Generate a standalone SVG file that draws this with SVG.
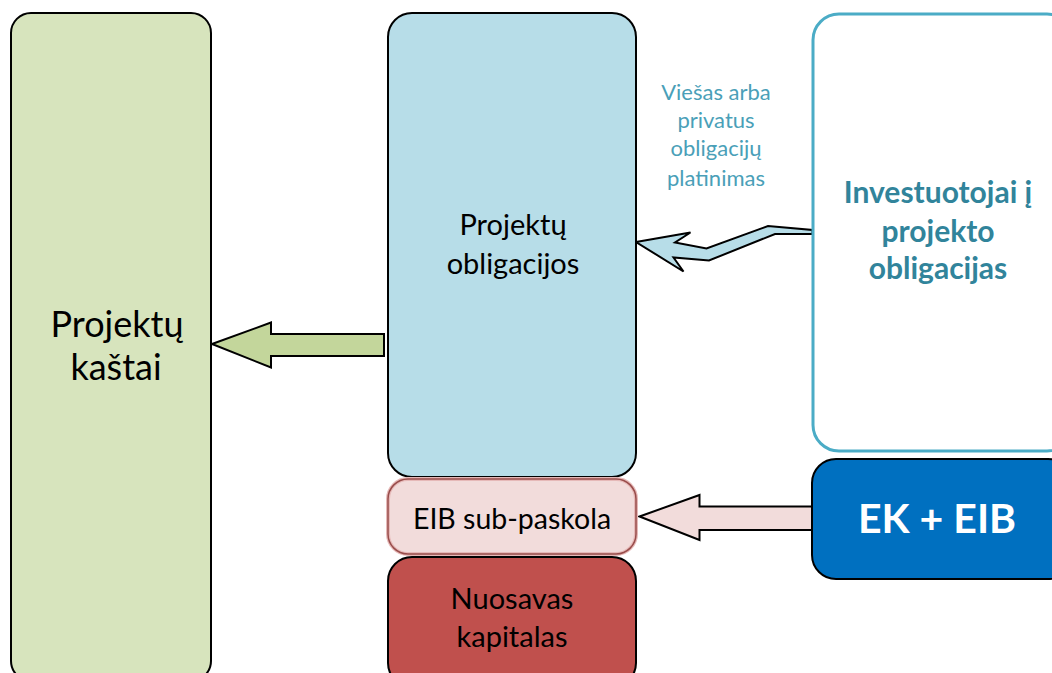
<svg xmlns="http://www.w3.org/2000/svg" width="1052" height="673" viewBox="0 0 1052 673">
<style>
text{font-family:Lato,"Open Sans","Liberation Sans",sans-serif;text-anchor:middle}
.box{stroke:#000;stroke-width:2}
.arrow{stroke:#000;stroke-width:2;stroke-linejoin:miter}
.dark{fill:#000}
</style>
<rect width="1052" height="673" fill="#fff"/>
<g id="connectors">
<path class="arrow" fill="#c3d69b" d="M212,344 L271,322.5 L271,334 L384,334 L384,356 L271,356 L271,367.5 Z"/>
<path class="arrow" fill="#b7dde8" d="M636,242 L690.5,232.5 L675,242.5 L706.5,248.5 L768,226 L812.5,230 L812.5,234 L775,234 L709,260.5 L673.5,257.5 L683.5,271.5 Z"/>
<path class="arrow" fill="#f2dcdb" d="M639.5,516.5 L699.5,495 L699.5,506.5 L813,506.5 L813,530 L699.5,530 L699.5,540 Z"/>
</g>
<g id="projektu-kastai">
<rect class="box" x="11" y="13" width="200" height="668" rx="20" fill="#d7e4bd"/>
<text class="dark" x="117" y="337" font-size="36">Projektų</text>
<text class="dark" x="116" y="380" font-size="36">kaštai</text>
</g>
<g id="projektu-obligacijos">
<rect class="box" x="388" y="13" width="248" height="464" rx="24" fill="#b7dde8"/>
<text class="dark" x="513" y="235" font-size="29">Projektų</text>
<text class="dark" x="513" y="274" font-size="29">obligacijos</text>
</g>
<g id="eib-sub-paskola">
<rect x="388" y="479" width="248" height="75" rx="20" fill="#f2dcdb" stroke="#e6b9b8" stroke-width="4"/>
<rect x="388" y="479" width="248" height="75" rx="20" fill="none" stroke="#984c4a" stroke-width="1.5"/>
<text class="dark" x="512" y="529" font-size="28.5">EIB sub-paskola</text>
</g>
<g id="nuosavas-kapitalas">
<rect class="box" x="388" y="557" width="248" height="130" rx="24" fill="#c0504d"/>
<text class="dark" x="512" y="609" font-size="29">Nuosavas</text>
<text class="dark" x="512" y="647" font-size="29">kapitalas</text>
</g>
<g id="viesas-label">
<text fill="#4a9fb8" font-size="22" x="716" y="100">Viešas arba</text>
<text fill="#4a9fb8" font-size="22" x="716" y="128">privatus</text>
<text fill="#4a9fb8" font-size="22" x="716" y="156">obligacijų</text>
<text fill="#4a9fb8" font-size="22" x="716" y="186">platinimas</text>
</g>
<g id="investuotojai">
<rect x="813" y="14" width="260" height="437" rx="26" fill="#fff" stroke="#4bacc6" stroke-width="3"/>
<text fill="#31849b" font-weight="bold" font-size="30" x="938" y="203">Investuotojai į</text>
<text fill="#31849b" font-weight="bold" font-size="30" x="938" y="242">projekto</text>
<text fill="#31849b" font-weight="bold" font-size="30" x="938" y="279">obligacijas</text>
</g>
<g id="ek-eib">
<rect class="box" x="812" y="459" width="260" height="120" rx="24" fill="#0070c0"/>
<text fill="#fff" font-weight="bold" font-size="41" x="937" y="533">EK + EIB</text>
</g>
</svg>
